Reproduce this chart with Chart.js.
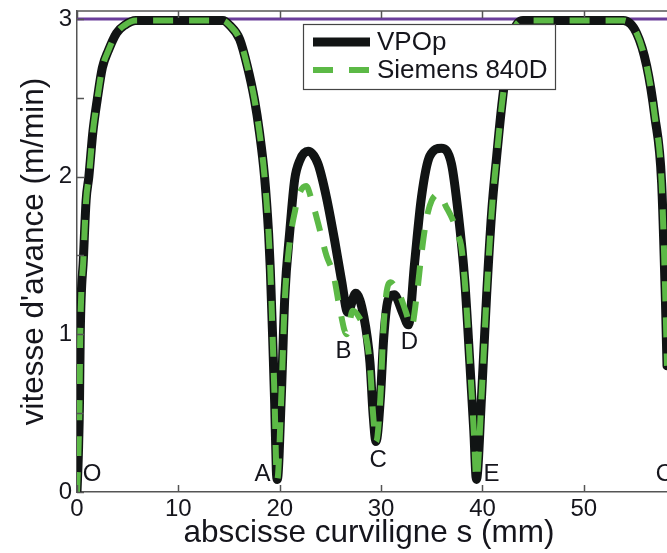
<!DOCTYPE html>
<html><head><meta charset="utf-8">
<script src="https://cdn.jsdelivr.net/npm/chart.js@4/dist/chart.umd.min.js"></script>
<style>html,body{margin:0;padding:0;background:#fff}#wrap{width:667px;height:553px}</style>
</head><body><div id="wrap"><canvas id="c" width="667" height="553"></canvas></div>
<script>
// ---- data ----
const vpopS = [0, 0.15, 0.25, 0.32, 0.64, 0.9, 1.17, 1.56, 2.0, 2.5, 3.1, 3.9, 4.7, 5.8, 8, 11, 14.4, 15.05, 16.05, 16.8, 17.5, 18.0, 18.5, 18.9, 19.07, 19.3, 19.5, 19.66, 19.76, 20.15, 20.5, 21.0, 21.47, 21.96, 22.8, 23.77, 24.6, 25.4, 26.1, 26.7, 27.5, 28.3, 28.9, 29.2, 29.5, 29.93, 30.26, 30.7, 31.3, 32.1, 32.7, 33.3, 33.98, 34.8, 35.95, 36.94, 37.6, 38.25, 38.75, 39.14, 39.4, 39.9, 40.4, 40.9, 41.4, 41.9, 42.4, 43.0, 44.0, 49.0, 53.9, 55.2, 56.2, 57.0, 57.67, 58.05, 58.2, 58.4, 58.55];
const vpopV = [0, 0.27, 0.58, 1.0, 1.49, 1.85, 2.0, 2.28, 2.49, 2.69, 2.8, 2.91, 2.96, 2.99, 2.99, 2.99, 2.99, 2.96, 2.87, 2.7, 2.49, 2.28, 2.0, 1.64, 1.41, 0.98, 0.56, 0.14, 0.08, 0.6, 1.24, 1.66, 1.98, 2.1, 2.16, 2.08, 1.87, 1.6, 1.34, 1.14, 1.26, 1.11, 0.82, 0.5, 0.32, 0.6, 0.98, 1.22, 1.25, 1.14, 1.06, 1.45, 1.87, 2.13, 2.18, 2.08, 1.77, 1.34, 0.82, 0.39, 0.08, 0.6, 1.24, 1.77, 2.13, 2.45, 2.7, 2.91, 2.99, 2.99, 2.99, 2.91, 2.7, 2.38, 1.96, 1.2, 0.8, 0.3, 0];
const siemensS = [0, 0.15, 0.25, 0.32, 0.64, 0.9, 1.17, 1.56, 2.0, 2.5, 3.1, 3.9, 4.7, 5.8, 8, 11, 14.4, 15.05, 16.05, 16.8, 17.5, 18.0, 18.5, 18.9, 19.07, 19.3, 19.5, 19.66, 19.76, 20.15, 20.5, 20.8, 21.2, 21.5, 21.8, 22.6, 23.2, 24.0, 24.6, 25.3, 25.9, 26.6, 27.2, 27.9, 28.4, 28.9, 29.2, 29.5, 29.93, 30.2, 30.5, 30.95, 31.4, 31.9, 32.4, 33.0, 33.5, 34.0, 34.5, 35.0, 35.7, 36.4, 37.1, 37.5, 37.9, 38.25, 38.75, 39.14, 39.4, 39.9, 40.4, 40.9, 41.4, 41.9, 42.4, 43.0, 44.0, 49.0, 53.9, 55.2, 56.2, 57.0, 57.67, 58.05, 58.2, 58.4, 58.55];
const siemensV = [0, 0.27, 0.58, 1.0, 1.49, 1.85, 2.0, 2.28, 2.49, 2.69, 2.8, 2.91, 2.96, 2.99, 2.99, 2.99, 2.99, 2.96, 2.87, 2.7, 2.49, 2.28, 2.0, 1.64, 1.41, 0.98, 0.56, 0.14, 0.08, 0.6, 1.22, 1.48, 1.68, 1.78, 1.87, 1.94, 1.84, 1.65, 1.5, 1.38, 1.17, 1.0, 1.15, 1.1, 1.02, 0.8, 0.5, 0.32, 0.6, 1.0, 1.25, 1.33, 1.3, 1.24, 1.15, 1.05, 1.24, 1.52, 1.74, 1.85, 1.89, 1.81, 1.72, 1.64, 1.56, 1.34, 0.82, 0.39, 0.08, 0.6, 1.24, 1.77, 2.13, 2.45, 2.7, 2.91, 2.99, 2.99, 2.99, 2.91, 2.7, 2.38, 1.96, 1.2, 0.8, 0.3, 0];
const limitS = [0, 58.2];
const limitV = [3, 3];
const seriesNames = ['VPOp', 'Siemens 840D'];
const xTicks = [0, 10, 20, 30, 40, 50];
const yTicks = [0, 1, 2, 3];
const yMinorTicks = [0.5, 1.5, 2.5];
const pointNames = ['O', 'A', 'B', 'C', 'D', 'E', 'O'];
const pointS = [1.48, 18.3, 26.3, 29.7, 32.8, 40.9, 58.0];
const pointV = [0.11, 0.11, 0.89, 0.2, 0.95, 0.11, 0.11];
const xTitle = 'abscisse curviligne s (mm)';
const yTitle = "vitesse d'avance (m/min)";

// ---- styles ----
const FONT = 'Liberation Sans, Arial, Helvetica, sans-serif';
const TXT = '#15151c';
const BLACK = '#111414';
const GREEN = '#5cb946';
const PURPLE = '#6a3d9a';
const AXIS = '#555555';
const DASH = [20, 16];

const pts = (xs, ys) => xs.map((x, i) => ({x, y: ys[i]}));

const overlay = {
  id: 'overlay',
  afterDraw(chart) {
    const ctx = chart.ctx, xs = chart.scales.x, ys = chart.scales.y, ca = chart.chartArea;
    ctx.save();
    // frame top line
    ctx.strokeStyle = AXIS; ctx.lineWidth = 1.5;
    ctx.beginPath(); ctx.moveTo(ca.left, ca.top); ctx.lineTo(chart.width, ca.top); ctx.stroke();
    // inward ticks
    xTicks.forEach(v => {
      const px = Math.round(xs.getPixelForValue(v)) + 0.5;
      ctx.beginPath(); ctx.moveTo(px, ca.bottom); ctx.lineTo(px, ca.bottom - 7); ctx.stroke();
      ctx.beginPath(); ctx.moveTo(px, ca.top); ctx.lineTo(px, ca.top + 7); ctx.stroke();
    });
    yTicks.concat(yMinorTicks).forEach(v => {
      const py = Math.round(ys.getPixelForValue(v)) + 0.5;
      ctx.beginPath(); ctx.moveTo(ca.left, py); ctx.lineTo(ca.left + 7, py); ctx.stroke();
    });
    // point labels
    ctx.fillStyle = TXT;
    ctx.font = '24px ' + FONT;
    ctx.textAlign = 'center'; ctx.textBaseline = 'middle';
    pointNames.forEach((n, i) => {
      ctx.fillText(n, xs.getPixelForValue(pointS[i]), ys.getPixelForValue(pointV[i]));
    });
    // legend
    const lx = 303.5, ly = 24.5, lw = 252, lh = 65;
    ctx.fillStyle = '#ffffff';
    ctx.fillRect(lx, ly, lw, lh);
    ctx.strokeStyle = '#444'; ctx.lineWidth = 1.2;
    ctx.strokeRect(lx, ly, lw, lh);
    const ds = chart.data.datasets;
    [0, 1].forEach(i => {
      const y = i === 0 ? 42 : 70;
      ctx.save();
      ctx.strokeStyle = ds[i].borderColor; ctx.lineWidth = ds[i].borderWidth;
      ctx.setLineDash(ds[i].borderDash || []);
      ctx.beginPath(); ctx.moveTo(313, y); ctx.lineTo(370, y); ctx.stroke();
      ctx.restore();
      ctx.fillStyle = TXT; ctx.font = '26px ' + FONT;
      ctx.textAlign = 'left'; ctx.textBaseline = 'middle';
      ctx.fillText(seriesNames[i], 377, y + 1);
    });
    // axis titles
    ctx.fillStyle = TXT; ctx.font = '31.5px ' + FONT;
    ctx.textAlign = 'center'; ctx.textBaseline = 'alphabetic';
    ctx.fillText(xTitle, 369, 542);
    ctx.translate(43, (ca.top + ca.bottom) / 2);
    ctx.rotate(-Math.PI / 2);
    ctx.fillText(yTitle, 0, 0);
    ctx.restore();
  }
};

new Chart(document.getElementById('c'), {
  type: 'line',
  data: {
    datasets: [
      {label: seriesNames[0], data: pts(vpopS, vpopV), borderColor: BLACK, borderWidth: 9,
       pointRadius: 0, cubicInterpolationMode: 'monotone', order: 1, borderCapStyle: 'round', borderJoinStyle: 'round'},
      {label: seriesNames[1], data: pts(siemensS, siemensV), borderColor: GREEN, borderWidth: 6, borderDash: DASH,
       pointRadius: 0, cubicInterpolationMode: 'monotone', order: 0},
      {label: 'limite', data: pts(limitS, limitV), borderColor: PURPLE, borderWidth: 3,
       pointRadius: 0, order: 2}
    ]
  },
  options: {
    responsive: false, animation: false, devicePixelRatio: 1,
    layout: {padding: {top: 11, left: 0, right: 0, bottom: 0}},
    plugins: {legend: {display: false}, tooltip: {enabled: false}},
    scales: {
      x: {
        type: 'linear', min: 0, max: 58.2,
        grid: {display: false, drawTicks: false},
        border: {display: true, color: AXIS, width: 1.5},
        ticks: {color: TXT, font: {family: FONT, size: 24}, padding: 3, maxRotation: 0, autoSkip: false,
                callback: v => String(v)},
        afterBuildTicks: s => { s.ticks = xTicks.map(v => ({value: v})); },
        afterFit: s => { s.height = 61; s.paddingLeft = 0; s.paddingRight = 0; }
      },
      y: {
        type: 'linear', min: 0, max: 3.05,
        grid: {display: false, drawTicks: false},
        border: {display: true, color: AXIS, width: 1.5},
        ticks: {color: TXT, font: {family: FONT, size: 24}, padding: 5, callback: v => String(v)},
        afterBuildTicks: s => { s.ticks = yTicks.map(v => ({value: v})); },
        afterFit: s => { s.width = 77; s.paddingTop = 0; s.paddingBottom = 0; }
      }
    }
  },
  plugins: [overlay]
});
</script>
</body></html>
